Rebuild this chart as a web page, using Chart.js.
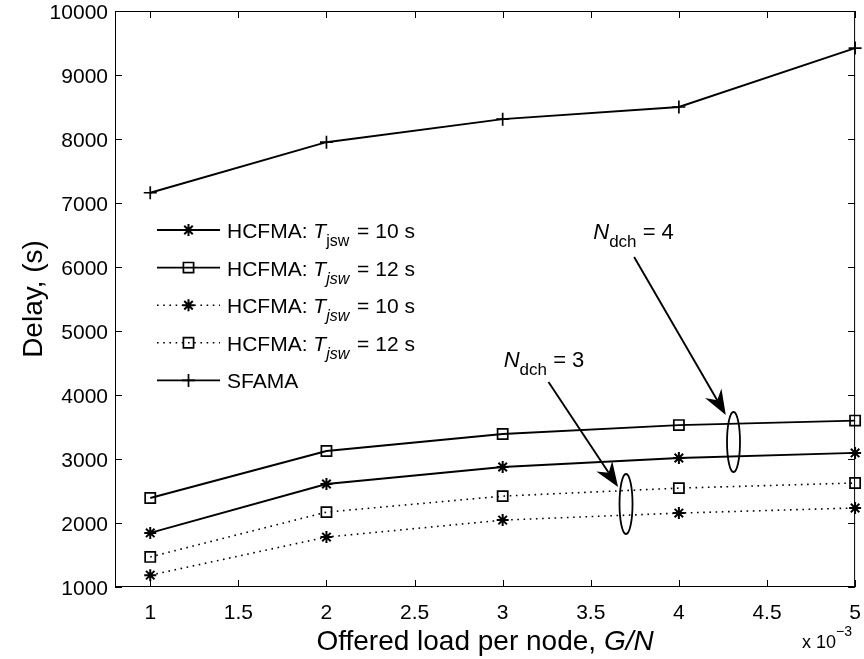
<!DOCTYPE html>
<html>
<head>
<meta charset="utf-8">
<title>Delay vs offered load per node</title>
<script src="https://cdn.jsdelivr.net/npm/chart.js@4.4.0/dist/chart.umd.min.js"></script>
<style>
  html, body { margin: 0; padding: 0; background: #fff; }
  #wrap { width: 864px; height: 659px; }
</style>
</head>
<body>
<div id="wrap"><canvas id="chart" width="864" height="659"></canvas></div>
<script>
// offered load per node (x 10^-3)
const loads = [1, 2, 3, 4, 5];

// delay values (s)
const hcfma4Tjsw10 = [1845, 2610, 2875, 3015, 3095];
const hcfma4Tjsw12 = [2390, 3125, 3390, 3530, 3600];
const hcfma3Tjsw10 = [1185, 1780, 2045, 2155, 2235];
const hcfma3Tjsw12 = [1470, 2170, 2420, 2545, 2625];
const sfama = [7160, 7950, 8310, 8500, 9420];

const xTicks = [1, 1.5, 2, 2.5, 3, 3.5, 4, 4.5, 5];
const yTicks = [1000, 2000, 3000, 4000, 5000, 6000, 7000, 8000, 9000, 10000];

const FONT = "'Liberation Sans', Arial, Helvetica, sans-serif";

const toPoints = (ys) => ys.map((y, i) => ({ x: loads[i], y }));

// legend text: [main, subscript, subscript italic?, tail]
const legendLabels = [
  ['HCFMA: ', 'jsw', false, ' = 10 s'],
  ['HCFMA: ', 'jsw', true, ' = 12 s'],
  ['HCFMA: ', 'jsw', true, ' = 10 s'],
  ['HCFMA: ', 'jsw', true, ' = 12 s'],
  ['SFAMA', null, false, '']
];

// callouts, in data units
const callouts = [
  { n: '4', text: { x: 3.514, y: 6437 }, from: { x: 3.746, y: 6156 }, to: { x: 4.266, y: 3688 }, ring: { x: 4.31, y: 3266 } },
  { n: '3', text: { x: 3.006, y: 4437 }, from: { x: 3.26, y: 4203 }, to: { x: 3.655, y: 2563 }, ring: { x: 3.70, y: 2297 } }
];

function lineSet(label, data, dotted, pointStyle, radius) {
  return {
    label,
    data: toPoints(data),
    borderColor: '#000',
    borderWidth: dotted ? 1.6 : 1.9,
    borderDash: dotted ? [1.6, 4.6] : [],
    pointStyle,
    pointRadius: radius,
    pointBorderWidth: pointStyle === 'star' ? 2 : 1.7,
    pointBorderColor: '#000',
    pointBackgroundColor: 'rgba(0,0,0,0)',
    fill: false,
    tension: 0,
    clip: false
  };
}

const datasets = [
  lineSet('HCFMA: Tjsw = 10 s', hcfma4Tjsw10, false, 'star', 6),
  lineSet('HCFMA: Tjsw = 12 s', hcfma4Tjsw12, false, 'rect', 7.2),
  lineSet('HCFMA: Tjsw = 10 s', hcfma3Tjsw10, true, 'star', 6),
  lineSet('HCFMA: Tjsw = 12 s', hcfma3Tjsw12, true, 'rect', 7.2),
  lineSet('SFAMA', sfama, false, 'cross', 6.5)
];

function drawParts(ctx, x, y, parts) {
  let cx = x;
  parts.forEach((p) => {
    ctx.font = p.font;
    ctx.fillText(p.text, cx, y + (p.dy || 0));
    cx += ctx.measureText(p.text).width + (p.gap || 0);
  });
  return cx;
}

function drawArrow(ctx, x0, y0, x1, y1) {
  const dx = x1 - x0, dy = y1 - y0;
  const len = Math.hypot(dx, dy);
  const ux = dx / len, uy = dy / len;
  const nx = -uy, ny = ux;
  const L = 25, W = 9.5, notch = 8;
  ctx.beginPath();
  ctx.moveTo(x0, y0);
  ctx.lineTo(x1 - ux * (L - notch), y1 - uy * (L - notch));
  ctx.lineWidth = 1.9;
  ctx.stroke();
  ctx.beginPath();
  ctx.moveTo(x1, y1);
  ctx.lineTo(x1 - ux * L + nx * W, y1 - uy * L + ny * W);
  ctx.lineTo(x1 - ux * (L - notch), y1 - uy * (L - notch));
  ctx.lineTo(x1 - ux * L - nx * W, y1 - uy * L - ny * W);
  ctx.closePath();
  ctx.fill();
}

const decor = {
  id: 'decor',
  afterDraw(chart) {
    const { ctx, chartArea: a, scales } = chart;
    const xs = scales.x, ys = scales.y;
    ctx.save();
    ctx.strokeStyle = '#000';
    ctx.fillStyle = '#000';

    // axes box and inward ticks
    ctx.lineWidth = 1;
    ctx.strokeRect(a.left + 0.5, a.top + 0.5, a.right - a.left - 1, a.bottom - a.top - 1);
    ctx.beginPath();
    xTicks.forEach((v) => {
      const px = Math.round(xs.getPixelForValue(v)) + 0.5;
      ctx.moveTo(px, a.bottom); ctx.lineTo(px, a.bottom - 7);
      ctx.moveTo(px, a.top); ctx.lineTo(px, a.top + 7);
    });
    yTicks.forEach((v) => {
      const py = Math.round(ys.getPixelForValue(v)) + 0.5;
      ctx.moveTo(a.left, py); ctx.lineTo(a.left + 7, py);
      ctx.moveTo(a.right, py); ctx.lineTo(a.right - 7, py);
    });
    ctx.stroke();

    // tick labels
    ctx.font = '21px ' + FONT;
    ctx.textBaseline = 'alphabetic';
    ctx.textAlign = 'center';
    xTicks.forEach((v) => {
      ctx.fillText(String(v), xs.getPixelForValue(v), a.bottom + 32);
    });
    ctx.textAlign = 'right';
    yTicks.forEach((v) => {
      ctx.fillText(String(v), a.left - 7, ys.getPixelForValue(v) + 8);
    });

    // axis titles
    ctx.textAlign = 'left';
    const t1 = 'Offered load per node, ', t2 = 'G/N';
    ctx.font = '28px ' + FONT;
    const w1 = ctx.measureText(t1).width;
    ctx.font = 'italic 28px ' + FONT;
    const w2 = ctx.measureText(t2).width;
    const cx = (a.left + a.right) / 2;
    drawParts(ctx, cx - (w1 + w2) / 2, 650, [
      { text: t1, font: '28px ' + FONT },
      { text: t2, font: 'italic 28px ' + FONT }
    ]);

    ctx.save();
    ctx.translate(42, (a.top + a.bottom) / 2);
    ctx.rotate(-Math.PI / 2);
    ctx.textAlign = 'center';
    ctx.font = '28px ' + FONT;
    ctx.fillText('Delay, (s)', 0, 0);
    ctx.restore();

    // x 10^-3 multiplier
    ctx.textAlign = 'left';
    drawParts(ctx, 802, 648, [
      { text: 'x 10', font: '18px ' + FONT },
      { text: '\u22123', font: '14px ' + FONT, dy: -12 }
    ]);

    // legend
    const rowY0 = 230, rowStep = 37.6;
    chart.data.datasets.forEach((ds, i) => {
      const y = rowY0 + i * rowStep;
      ctx.save();
      ctx.strokeStyle = '#000';
      ctx.lineWidth = ds.borderWidth;
      ctx.setLineDash(ds.borderDash);
      ctx.beginPath();
      ctx.moveTo(157, y); ctx.lineTo(220, y);
      ctx.stroke();
      ctx.restore();
      ctx.save();
      ctx.fillStyle = 'rgba(0,0,0,0)';
      ctx.strokeStyle = '#000';
      ctx.lineWidth = ds.pointBorderWidth;
      Chart.helpers.drawPoint(ctx, {
        pointStyle: ds.pointStyle,
        radius: ds.pointRadius,
        borderWidth: ds.pointBorderWidth,
        rotation: 0
      }, 188.5, y);
      ctx.restore();

      const lab = legendLabels[i];
      const base = y + 8;
      ctx.fillStyle = '#000';
      if (lab[1]) {
        drawParts(ctx, 227, base, [
          { text: lab[0], font: '21px ' + FONT },
          { text: 'T', font: 'italic 21px ' + FONT },
          { text: lab[1], font: (lab[2] ? 'italic ' : '') + '16px ' + FONT, dy: 8, gap: 2 },
          { text: lab[3], font: '21px ' + FONT }
        ]);
      } else {
        drawParts(ctx, 227, base, [{ text: lab[0], font: '21px ' + FONT }]);
      }
    });

    // callouts: label, arrow, ellipse
    callouts.forEach((c) => {
      const tx = xs.getPixelForValue(c.text.x), ty = ys.getPixelForValue(c.text.y);
      ctx.fillStyle = '#000';
      drawParts(ctx, tx, ty, [
        { text: 'N', font: 'italic 22px ' + FONT },
        { text: 'dch', font: '17px ' + FONT, dy: 8 },
        { text: ' = ' + c.n, font: '22px ' + FONT }
      ]);
      drawArrow(ctx,
        xs.getPixelForValue(c.from.x), ys.getPixelForValue(c.from.y),
        xs.getPixelForValue(c.to.x), ys.getPixelForValue(c.to.y));
      ctx.beginPath();
      ctx.lineWidth = 1.8;
      ctx.ellipse(xs.getPixelForValue(c.ring.x), ys.getPixelForValue(c.ring.y), 6.5, 30, 0, 0, Math.PI * 2);
      ctx.stroke();
    });

    ctx.restore();
  }
};

new Chart(document.getElementById('chart'), {
  type: 'line',
  data: { datasets },
  options: {
    responsive: false,
    animation: false,
    devicePixelRatio: 1,
    layout: { padding: { top: 11, right: 5, left: 0, bottom: 0 } },
    plugins: { legend: { display: false }, tooltip: { enabled: false } },
    scales: {
      x: {
        type: 'linear',
        min: 0.8,
        max: 5,
        afterBuildTicks: (s) => { s.ticks = xTicks.map((v) => ({ value: v })); },
        afterFit: (s) => { s.height = 72; },
        grid: { display: false, drawTicks: false },
        border: { display: false },
        ticks: { display: false }
      },
      y: {
        type: 'linear',
        min: 1000,
        max: 10000,
        afterBuildTicks: (s) => { s.ticks = yTicks.map((v) => ({ value: v })); },
        afterFit: (s) => { s.width = 115; },
        grid: { display: false, drawTicks: false },
        border: { display: false },
        ticks: { display: false }
      }
    }
  },
  plugins: [decor]
});
</script>
</body>
</html>
